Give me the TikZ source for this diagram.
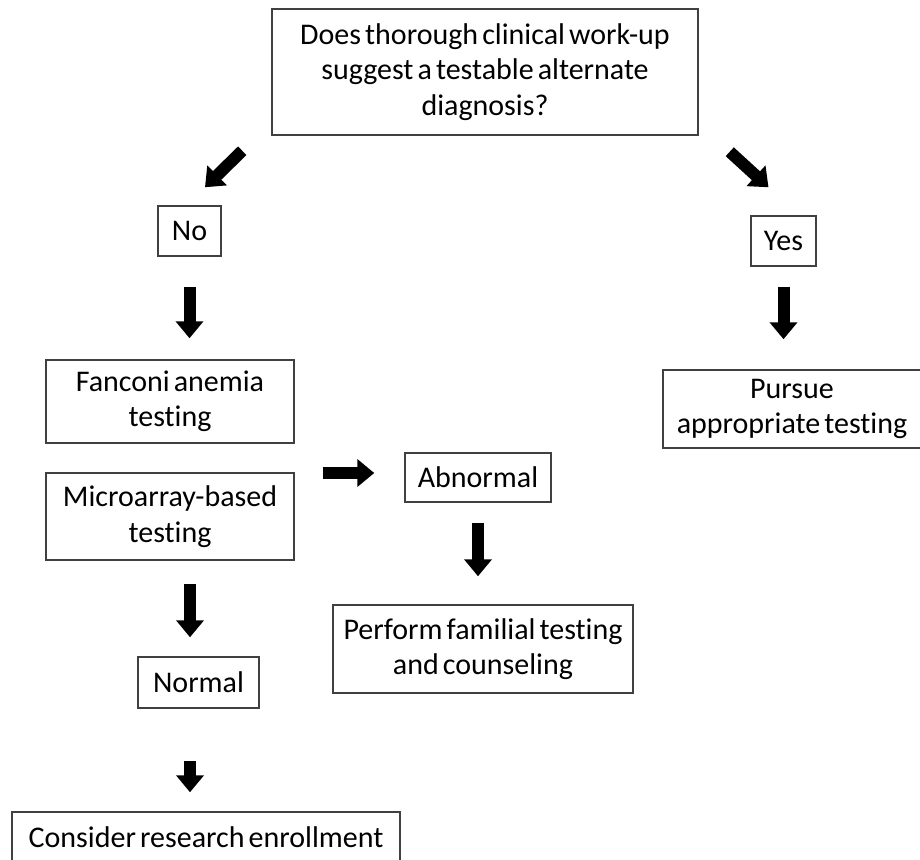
\documentclass[tikz,border=0pt]{standalone}
\usepackage{fontspec}
\setmainfont{Carlito}[WordSpace=0.6, Ligatures={NoCommon}]
\usepackage{tikz}
\usetikzlibrary{arrows.meta,
	calc,
	positioning}

\begin{document}
\begin{tikzpicture}[x=1pt, y=-1pt,
	box/.style={draw=black!75, line width=1.5pt, align=center, inner sep=0pt, font=\fontsize{30}{35.5}\selectfont},
	bigarrow/.style={line width=12pt, -{Triangle[width=27pt,length=17pt]}}]
                            \useasboundingbox (0,0) rectangle (920,859);
                            \node (question) [box, minimum width=426, minimum height=126] at (485,72) {Does thorough clinical work-up\\suggest a testable alternate\\diagnosis?};
                            \node (no) [box, minimum width=63, minimum height=50] at (189.5,231) {No};
                            \node (yes) [box, minimum width=65, minimum height=50] at (783.5,241) {Yes};
                            \node (fanconi) [box, minimum width=248, minimum height=83] at (170,401.5) {Fanconi anemia\\testing};
                            \node (microarray) [box, minimum width=248, minimum height=87] at (170,516.5) {Microarray-based\\testing};
                            \node (abnormal) [box, minimum width=146, minimum height=49] at (478,477.5) {Abnormal};
                            \node (perform) [box, minimum width=300, minimum height=88] at (483,649) {Perform familial testing\\and counseling};
                            \node (normal) [box, minimum width=121, minimum height=51] at (198.5,682.5) {Normal};
                            \node (consider) [box, minimum width=388, minimum height=50] at (206,837) {Consider research enrollment};
                            \node (pursue) [box, minimum width=258, minimum height=78] at (792,409) {Pursue\\appropriate testing};
                            \draw[bigarrow] ([shift={(-29,15)}]question.south west) -- ([shift={(15.5,-18)}]no.north);
                            \draw[bigarrow] ([shift={(31,16)}]question.south east) -- ([shift={(-15,-28)}]yes.north);
                            \draw[bigarrow, shorten <=30pt, shorten >=21pt] (no.south) -- (no.south |- fanconi.north);
                            \draw[bigarrow, shorten <=28pt, shorten >=30pt] ([shift={(0,-4.5)}]abnormal.west -| microarray.east) -- ([shift={(0,-4.5)}]abnormal.west);
                            \draw[bigarrow, shorten <=20pt, shorten >=28pt] (abnormal.south) -- (abnormal.south |- perform.north);
                            \draw[bigarrow, shorten <=23pt, shorten >=19pt] ([shift={(20,0)}]microarray.south) -- ([shift={(20,0)}]microarray.south |- normal.north);
                            \draw[bigarrow, shorten <=52pt, shorten >=19pt] ([shift={(-8.5,0)}]normal.south) -- ([shift={(-8.5,0)}]normal.south |- consider.north);
                            \draw[bigarrow, shorten <=20pt, shorten >=30pt] (yes.south) -- (yes.south |- pursue.north);
                        \end{tikzpicture}
\end{document}
